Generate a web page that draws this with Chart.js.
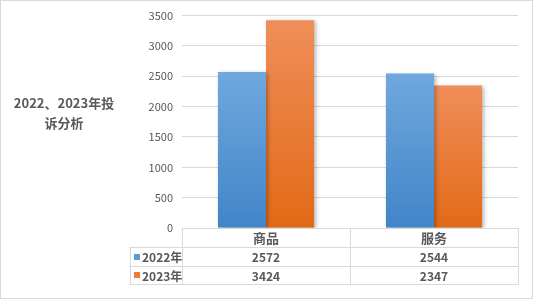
<!DOCTYPE html>
<html>
<head>
<meta charset="utf-8">
<script src="https://cdn.jsdelivr.net/npm/chart.js@4/dist/chart.umd.min.js"></script>
<style>
  html, body { margin: 0; padding: 0; background: #fff; }
  #wrap { position: relative; width: 534px; height: 300px; }
  #title { position: absolute; left: 0; top: 93px; width: 128px; text-align: center;
    font: bold 13px "Microsoft YaHei", "Noto Sans CJK SC", sans-serif; color: #595959; line-height: 20px; }
  canvas { position: absolute; left: 0; top: 0; }
</style>
</head>
<body>
<div id="wrap">
  <canvas id="c" width="534" height="300"></canvas>
  <div id="title">2022、2023年投<br>诉分析</div>
</div>
<script>
const categories = ['商品', '服务'];
const seriesNames = ['2022年', '2023年'];
const values2022 = [2572, 2544];
const values2023 = [3424, 2347];
const yMax = 3500;
const yStep = 500;

const FONT = '"Microsoft YaHei", "Noto Sans CJK SC", sans-serif';
const TEXT = '#595959';
const GRID = '#d9d9d9';
const gradStops = [
  ['#70a8de', '#4185c8'],
  ['#f08e5a', '#e26a16']
];
const swatch = ['#5b9bd5', '#ed7d31'];

function barGradient(ctx, idx) {
  const chart = ctx.chart;
  if (!chart.chartArea || ctx.raw === undefined) return swatch[idx];
  const y = chart.scales.y;
  const top = y.getPixelForValue(ctx.raw);
  const bottom = y.getPixelForValue(0);
  const g = chart.ctx.createLinearGradient(0, top, 0, bottom);
  g.addColorStop(0, gradStops[idx][0]);
  g.addColorStop(1, gradStops[idx][1]);
  return g;
}

const shadowPlugin = {
  id: 'shadow',
  beforeDatasetDraw(chart) {
    const c = chart.ctx;
    c.save();
    c.shadowColor = 'rgba(0,0,0,0.28)';
    c.shadowBlur = 4;
    c.shadowOffsetX = 2;
    c.shadowOffsetY = 1;
  },
  afterDatasetDraw(chart) { chart.ctx.restore(); }
};

const tablePlugin = {
  id: 'table',
  afterDraw(chart) {
    const c = chart.ctx;
    const a = chart.chartArea;
    const xs = chart.scales.x;
    const p0 = xs.getPixelForValue(0), p1 = xs.getPixelForValue(1);
    const left = a.left, mid = (p0 + p1) / 2, right = a.right;
    const legL = 129.5;
    const r0 = a.bottom, r1 = r0 + 19, r2 = r1 + 19, r3 = r2 + 18;
    c.save();
    c.strokeStyle = GRID;
    c.lineWidth = 1;
    c.beginPath();
    const h = (y, x1, x2) => { c.moveTo(x1, Math.round(y) + 0.5); c.lineTo(x2, Math.round(y) + 0.5); };
    const v = (x, y1, y2) => { c.moveTo(Math.round(x) + 0.5, y1); c.lineTo(Math.round(x) + 0.5, y2); };
    h(r0, left, right);
    h(r1, legL, right);
    h(r2, legL, right);
    h(r3, legL, right);
    v(legL, r1, r3 + 0.5);
    v(left, r0, r3 + 0.5);
    v(mid, r0, r3 + 0.5);
    v(right, r0, r3 + 0.5);
    c.stroke();

    c.fillStyle = TEXT;
    c.textAlign = 'center';
    c.textBaseline = 'middle';
    c.font = 'bold 13px ' + FONT;
    const centers = [(left + mid) / 2, (mid + right) / 2];
    categories.forEach((cat, i) => c.fillText(cat, centers[i], (r0 + r1) / 2 + 1));
    c.font = 'bold 12px ' + FONT;
    const rows = [values2022, values2023];
    const rowMid = [(r1 + r2) / 2 + 1, (r2 + r3) / 2 + 1];
    rows.forEach((vals, ri) => {
      vals.forEach((val, i) => c.fillText(String(val), centers[i], rowMid[ri]));
    });
    c.textAlign = 'left';
    seriesNames.forEach((name, ri) => {
      c.fillStyle = swatch[ri];
      c.fillRect(134, Math.round(rowMid[ri]) - 4, 6, 6);
      c.fillStyle = TEXT;
      c.fillText(name, 142, rowMid[ri]);
    });
    // outer frame
    c.strokeStyle = GRID;
    c.strokeRect(0.5, 0.5, 532, 298);
    c.restore();
  }
};

new Chart(document.getElementById('c'), {
  type: 'bar',
  data: {
    labels: categories,
    datasets: [
      { label: seriesNames[0], data: values2022, backgroundColor: ctx => barGradient(ctx, 0) },
      { label: seriesNames[1], data: values2023, backgroundColor: ctx => barGradient(ctx, 1) }
    ]
  },
  options: {
    responsive: false,
    animation: false,
    devicePixelRatio: 1,
    layout: { padding: { left: 0, right: 16, top: 15, bottom: 72 } },
    datasets: { bar: { categoryPercentage: 0.572, barPercentage: 1.0 } },
    plugins: { legend: { display: false }, tooltip: { enabled: false }, title: { display: false } },
    scales: {
      x: { display: false },
      y: {
        min: 0, max: yMax,
        afterFit(s) { s.width = 182; },
        ticks: { stepSize: yStep, padding: 9, color: TEXT, font: { family: FONT, size: 11 },
          callback: v => String(v) },
        grid: { color: GRID, drawTicks: false },
        border: { display: false }
      }
    }
  },
  plugins: [shadowPlugin, tablePlugin]
});
</script>
</body>
</html>
